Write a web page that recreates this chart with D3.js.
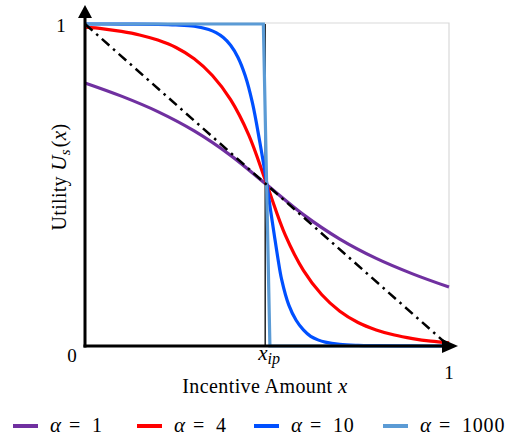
<!DOCTYPE html>
<html><head><meta charset="utf-8">
<script src="https://cdn.jsdelivr.net/npm/d3@7"></script>
<style>body{margin:0;background:#fff}svg{display:block}text{font-family:"Liberation Serif","DejaVu Serif",serif;fill:#000}</style>
</head><body><svg id="c" width="508" height="442"></svg>
<script>
// data
const purpleX=[0,0.1,0.2,0.3,0.4,0.5,0.6,0.7,0.8,0.9,1];
const purpleY=[0.817,0.776,0.728,0.668,0.592,0.5,0.408,0.332,0.272,0.224,0.183];
const redX=[0,0.05,0.1,0.15,0.2,0.25,0.3,0.35,0.4,0.45,0.5,0.55,0.6,0.65,0.7,0.75,0.8,0.85,0.9,0.95,1];
const redY=[0.99,0.985,0.977,0.966,0.95,0.927,0.892,0.84,0.765,0.655,0.5,0.345,0.235,0.16,0.108,0.073,0.05,0.034,0.023,0.015,0.01];
const blueX=[0,0.1,0.2,0.25,0.3,0.34,0.36,0.38,0.4,0.42,0.44,0.46,0.48,0.5,0.51,0.52,0.53,0.54,0.56,0.58,0.6,0.62,0.64,0.66,0.7,0.75,0.8,0.9,1];
const blueY=[1,0.9998,0.9988,0.997,0.993,0.983,0.973,0.958,0.934,0.897,0.84,0.755,0.635,0.5,0.42,0.345,0.272,0.208,0.127,0.08,0.05,0.03,0.019,0.012,0.005,0.002,0.001,0.0002,0];
const lightX=[0,0.49,0.508,1];
const lightY=[1,1,0,0];
const diagX=[0,1];
const diagY=[1,0];
const xip=0.495;
const legendLabels=["1","4","10","1000"];
const colors=["#7030A0","#FF0000","#0050FF","#5B9BD5"];

const svg=d3.select("#c");
const x=d3.scaleLinear().domain([0,1]).range([85,449]);
const y=d3.scaleLinear().domain([0,1]).range([346,24]);

// light grey frame
svg.append("path").attr("d",`M${x(0)},${y(1)-1}H${x(1)}V${y(0)}`).attr("fill","none").attr("stroke","#d9d9d9").attr("stroke-width",1.2);

// x_ip vertical line
svg.append("line").attr("x1",x(xip)).attr("x2",x(xip)).attr("y1",y(1)).attr("y2",y(0)).attr("stroke","#000").attr("stroke-width",1.3);

const line=d3.line().x(d=>x(d[0])).y(d=>y(d[1])).curve(d3.curveCatmullRom.alpha(0.5));
const lineL=d3.line().x(d=>x(d[0])).y(d=>y(d[1]));
function pts(a,b){return a.map((v,i)=>[v,b[i]]);}

svg.append("path").attr("d",line(pts(purpleX,purpleY))).attr("fill","none").attr("stroke",colors[0]).attr("stroke-width",3.2);
svg.append("path").attr("d",line(pts(redX,redY))).attr("fill","none").attr("stroke",colors[1]).attr("stroke-width",3.2);
svg.append("path").attr("d",line(pts(blueX,blueY))).attr("fill","none").attr("stroke",colors[2]).attr("stroke-width",3.2);
svg.append("path").attr("d",lineL(pts(lightX,lightY))).attr("fill","none").attr("stroke",colors[3]).attr("stroke-width",3.2);
svg.append("path").attr("d",lineL(pts(diagX,diagY))).attr("fill","none").attr("stroke","#000").attr("stroke-width",2.5).attr("stroke-dasharray","10,5,2.5,5");

// axes
svg.append("line").attr("x1",x(0)).attr("x2",x(0)).attr("y1",y(0)+1.5).attr("y2",16).attr("stroke","#000").attr("stroke-width",3);
svg.append("line").attr("x1",x(0)-1.5).attr("x2",445).attr("y1",y(0)).attr("y2",y(0)).attr("stroke","#000").attr("stroke-width",3);
svg.append("path").attr("d",`M${x(0)},5L${x(0)+7},18L${x(0)-7},18Z`).attr("fill","#000");
svg.append("path").attr("d",`M458,${y(0)}L442,${y(0)-7}L442,${y(0)+7}Z`).attr("fill","#000");

// tick labels
svg.append("text").attr("x",61).attr("y",32).attr("text-anchor","middle").attr("font-size",19).text("1");
svg.append("text").attr("x",72).attr("y",362).attr("text-anchor","middle").attr("font-size",19).text("0");
svg.append("text").attr("x",449).attr("y",379).attr("text-anchor","middle").attr("font-size",19).text("1");
const xl=svg.append("text").attr("x",x(xip)+4).attr("y",360).attr("text-anchor","middle").attr("font-size",21);
xl.append("tspan").attr("font-style","italic").text("x");
xl.append("tspan").attr("font-style","italic").attr("font-size",16).attr("dy",4).text("ip");

// axis titles
const xt=svg.append("text").attr("x",265).attr("y",393).attr("text-anchor","middle").attr("font-size",20).attr("letter-spacing",0.4);
xt.append("tspan").text("Incentive Amount ");
xt.append("tspan").attr("font-style","italic").attr("font-size",21).text("x");
const yt=svg.append("text").attr("transform","translate(66,177) rotate(-90)").attr("text-anchor","middle").attr("font-size",20).attr("letter-spacing",0.3);
yt.append("tspan").text("Utility ");
yt.append("tspan").attr("font-style","italic").attr("font-size",21).text("U");
yt.append("tspan").attr("font-style","italic").attr("font-size",15).attr("dy",4).text("s");
yt.append("tspan").attr("dy",-4).attr("dx",2).text("(");
yt.append("tspan").attr("font-style","italic").attr("font-size",21).text("x");
yt.append("tspan").text(")");

// legend
const legX=[13,137,254,383];
legendLabels.forEach((lab,i)=>{
  svg.append("line").attr("x1",legX[i]).attr("x2",legX[i]+25).attr("y1",426).attr("y2",426).attr("stroke",colors[i]).attr("stroke-width",4);
  svg.append("text").attr("x",legX[i]+37).attr("y",432).attr("font-size",21).attr("font-style","italic").text("α");
  svg.append("text").attr("x",legX[i]+56).attr("y",432).attr("font-size",20).text("=");
  svg.append("text").attr("x",legX[i]+79).attr("y",432).attr("font-size",20).attr("letter-spacing",0.8).text(lab);
});
</script></body></html>
